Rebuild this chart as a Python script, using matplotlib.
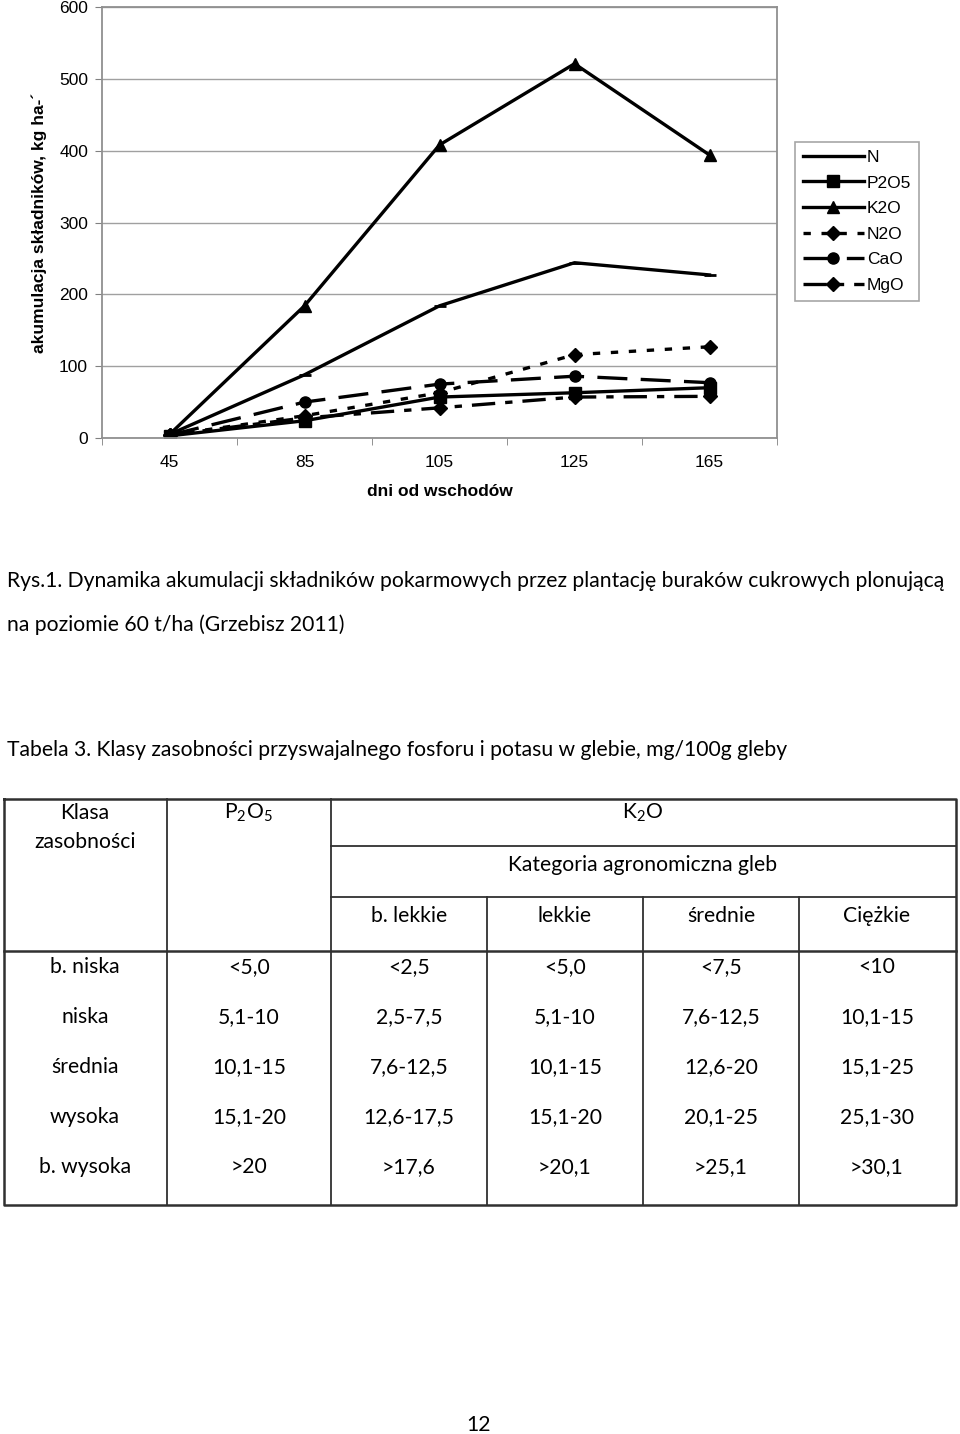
import matplotlib
matplotlib.use('Agg')
import matplotlib.pyplot as plt

# ---------------- data ----------------
days = ['45', '85', '105', '125', '165']
N    = [5, 88, 184, 244, 227]
P2O5 = [3, 24, 57, 63, 70]
K2O  = [5, 184, 408, 521, 394]
N2O  = [4, 31, 63, 116, 127]
CaO  = [4, 50, 75, 86, 77]
MgO  = [4, 28, 42, 57, 58]
y_ticks = [0, 100, 200, 300, 400, 500, 600]
series_names = ['N', 'P2O5', 'K2O', 'N2O', 'CaO', 'MgO']

caption1 = 'Rys.1. Dynamika akumulacji składników pokarmowych przez plantację buraków cukrowych plonującą'
caption2 = 'na poziomie 60 t/ha (Grzebisz 2011)'
table_title = 'Tabela 3. Klasy zasobności przyswajalnego fosforu i potasu w glebie, mg/100g gleby'

klasy = ['b. niska', 'niska', 'średnia', 'wysoka', 'b. wysoka']
p2o5_vals = ['<5,0', '5,1-10', '10,1-15', '15,1-20', '>20']
k2o_bl = ['<2,5', '2,5-7,5', '7,6-12,5', '12,6-17,5', '>17,6']
k2o_l = ['<5,0', '5,1-10', '10,1-15', '15,1-20', '>20,1']
k2o_s = ['<7,5', '7,6-12,5', '12,6-20', '20,1-25', '>25,1']
k2o_c = ['<10', '10,1-15', '15,1-25', '25,1-30', '>30,1']
soil_categories = ['b. lekkie', 'lekkie', 'średnie', 'Ciężkie']

# ---------------- figure ----------------
plt.rcParams['font.family'] = ['Liberation Sans', 'DejaVu Sans']
plt.rcParams['mathtext.fontset'] = 'custom'
plt.rcParams['mathtext.rm'] = 'Lato'
plt.rcParams['mathtext.default'] = 'regular'

W, H = 960, 1434
fig = plt.figure(figsize=(W / 100, H / 100), dpi=100)
fig.patch.set_facecolor('white')

cfs = 12.5
ax = fig.add_axes([102 / W, 1 - 438 / H, (777 - 102) / W, (438 - 7) / H])
x = list(range(len(days)))
lw = 2.4
styles = [
    dict(ls='-', marker='_', ms=8, mew=2),
    dict(ls='-', marker='s', ms=8),
    dict(ls='-', marker='^', ms=9),
    dict(ls=(0, (2.2, 3.2)), marker='D', ms=7.5),
    dict(ls=(0, (9, 4)), marker='o', ms=8),
    dict(ls=(0, (7, 3, 2.2, 3)), marker='D', ms=7.5),
]
handles = []
for name, vals, st in zip(series_names, [N, P2O5, K2O, N2O, CaO, MgO], styles):
    h, = ax.plot(x, vals, color='black', lw=lw, label=name, **st)
    handles.append(h)

ax.set_xlim(-0.5, len(days) - 0.5)
ax.set_ylim(0, 600)
ax.set_yticks(y_ticks)
ax.set_xticks(x)
ax.set_xticklabels(days)
ax.set_xticks([i - 0.5 for i in range(len(days) + 1)], minor=True)
ax.tick_params(axis='x', which='major', length=0, pad=12, labelsize=cfs)
ax.tick_params(axis='x', which='minor', length=5, color='#808080', direction='out')
ax.tick_params(axis='y', length=5, color='#808080', direction='out', pad=5, labelsize=cfs)
ax.grid(axis='y', color='#a0a0a0', lw=1)
ax.set_axisbelow(True)
for sp in ax.spines.values():
    sp.set_color('#909090')
    sp.set_linewidth(1.3)
ax.set_xlabel('dni od wschodów', fontsize=cfs, fontweight='bold', labelpad=10)
ax.set_ylabel('akumulacja składników, kg ha-´', fontsize=cfs, fontweight='bold', labelpad=9)

leg = fig.legend(handles=handles, loc='upper left', bbox_to_anchor=(795 / W, 1 - 142 / H),
                 frameon=True, fancybox=False, edgecolor='#909090', fontsize=cfs,
                 handlelength=3.5, handletextpad=0.2, labelspacing=0.6, borderpad=0.45,
                 borderaxespad=0)
leg.get_frame().set_linewidth(1.2)

# ---------------- page text & table (pixel overlay) ----------------
ov = fig.add_axes([0, 0, 1, 1])
ov.set_xlim(0, W)
ov.set_ylim(H, 0)
ov.axis('off')
ov.patch.set_alpha(0)

body_font = ['Lato', 'DejaVu Sans']
renderer = fig.canvas.get_renderer()


def fit(t, target_w):
    bb = t.get_window_extent(renderer=renderer)
    t.set_fontsize(t.get_fontsize() * target_w / bb.width)


c1 = ov.text(7, 581, caption1, family=body_font, fontsize=14, va='center', ha='left')
fit(c1, 940)
fs_body = c1.get_fontsize()
ov.text(7, 625, caption2, family=body_font, fontsize=fs_body, va='center', ha='left')
ov.text(7, 750, table_title, family=body_font, fontsize=fs_body, va='center', ha='left')

tfs = fs_body
tc = '#303030'
tlw = 1.3
# table frame
ov.plot([4, 956, 956, 4, 4], [799, 799, 1205, 1205, 799], color=tc, lw=1.8)
for xv in [167, 331]:
    ov.plot([xv, xv], [799, 1205], color=tc, lw=tlw)
for xv in [487, 643, 799]:
    ov.plot([xv, xv], [897, 1205], color=tc, lw=tlw)
for yv in [846, 897]:
    ov.plot([331, 956], [yv, yv], color=tc, lw=tlw)
ov.plot([4, 956], [951, 951], color=tc, lw=1.8)

ov.text(85, 813, 'Klasa', family=body_font, fontsize=tfs, ha='center', va='center')
ov.text(85, 842, 'zasobności', family=body_font, fontsize=tfs, ha='center', va='center')
ov.text(248, 813, 'P$_2$O$_5$', family=body_font, fontsize=tfs, ha='center', va='center')
ov.text(643, 813, 'K$_2$O', family=body_font, fontsize=tfs, ha='center', va='center')
ov.text(643, 865, 'Kategoria agronomiczna gleb', family=body_font, fontsize=tfs, ha='center', va='center')
col_centers = [409, 565, 721, 877]
for cx, lab in zip(col_centers, soil_categories):
    ov.text(cx, 916, lab, family=body_font, fontsize=tfs, ha='center', va='center')

row_y = [967, 1017, 1067, 1117, 1167]
cols = [(85, klasy), (249, p2o5_vals), (409, k2o_bl), (565, k2o_l), (721, k2o_s), (877, k2o_c)]
for cx, vals in cols:
    for ry, v in zip(row_y, vals):
        ov.text(cx, ry, v, family=body_font, fontsize=tfs, ha='center', va='center')

ov.text(479, 1425, '12', family=body_font, fontsize=tfs, ha='center', va='center')

fig.savefig('out.png', dpi=100, facecolor='white')
